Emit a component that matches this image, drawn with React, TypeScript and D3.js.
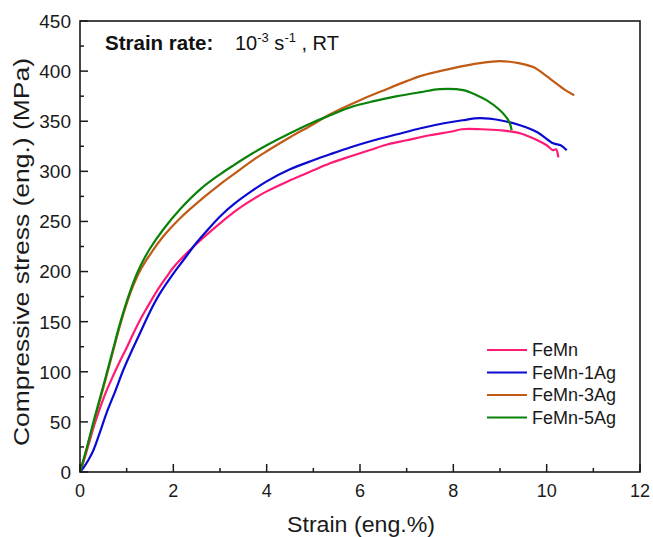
import React from "react";
import * as d3 from "d3";

const seriesNames = ["FeMn", "FeMn-1Ag", "FeMn-3Ag", "FeMn-5Ag"];
const seriesColors = ["#FF1A75", "#0A0AD2", "#C05A14", "#0A820A"];

const feMnStrain = [0, 0.1, 0.2, 0.3, 0.43, 0.55, 0.71, 0.85, 1.0, 1.15, 1.29, 1.45, 1.64, 1.86, 2.0, 2.3, 2.6, 3.0, 3.29, 3.6, 4.0, 4.5, 5.0, 5.36, 5.8, 6.2, 6.6, 7.0, 7.5, 8.0, 8.18, 8.6, 9.0, 9.43, 9.8, 10.0, 10.14, 10.2, 10.25];
const feMnStress = [0, 14, 30, 46, 64, 79, 96, 110, 124, 139, 152, 165, 180, 195, 204, 219, 232, 248, 259, 269, 280, 291, 301, 308, 315, 321, 327, 331, 336, 340, 342, 342, 341, 338, 331, 326, 321, 322, 314];

const ag1Strain = [0, 0.07, 0.18, 0.29, 0.43, 0.57, 0.75, 0.93, 1.1, 1.29, 1.5, 1.71, 2.0, 2.21, 2.5, 2.8, 3.0, 3.29, 3.7, 4.0, 4.5, 5.0, 5.36, 5.8, 6.3, 6.8, 7.3, 7.8, 8.2, 8.57, 9.0, 9.43, 9.8, 10.14, 10.3, 10.43];
const ag1Stress = [0, 4, 12, 22, 40, 59, 80, 102, 120, 139, 160, 178, 198, 211, 229, 245, 255, 267, 281, 290, 302, 311, 317, 324, 331, 337, 343, 348, 351, 353, 351, 346, 339, 328, 326, 321];

const ag3Strain = [0, 0.15, 0.3, 0.5, 0.7, 0.85, 1.0, 1.15, 1.3, 1.5, 1.8, 2.14, 2.6, 3.0, 3.29, 3.7, 4.0, 4.5, 5.0, 5.36, 6.0, 6.57, 7.0, 7.29, 8.0, 8.57, 9.0, 9.4, 9.71, 10.0, 10.14, 10.4, 10.59];
const ag3Stress = [0, 24, 50, 84, 119, 145, 168, 187, 202, 217, 236, 253, 272, 287, 297, 311, 320, 334, 347, 357, 371, 382, 390, 395, 403, 408, 410, 408, 404, 395, 390, 381, 376];

const ag5Strain = [0, 0.15, 0.3, 0.5, 0.7, 0.85, 1.0, 1.15, 1.3, 1.5, 1.8, 2.14, 2.6, 3.0, 3.29, 3.7, 4.0, 4.5, 5.0, 5.36, 5.8, 6.3, 6.8, 7.3, 7.71, 8.21, 8.5, 8.71, 9.0, 9.15, 9.21, 9.25];
const ag5Stress = [0, 25, 52, 86, 121, 147, 170, 190, 206, 223, 243, 262, 283, 297, 306, 318, 326, 338, 349, 356, 364, 370, 375, 379, 382, 381, 376, 371, 361, 353, 348, 341];

const allStrain = [feMnStrain, ag1Strain, ag3Strain, ag5Strain];
const allStress = [feMnStress, ag1Stress, ag3Stress, ag5Stress];

const xTicks = [0, 2, 4, 6, 8, 10, 12];
const yTicks = [0, 50, 100, 150, 200, 250, 300, 350, 400, 450];

const W = 653, H = 537;
const L = 80, R = 640, T = 21, B = 472;

export default function App() {
  const x = d3.scaleLinear().domain([0, 12]).range([L, R]);
  const y = d3.scaleLinear().domain([0, 450]).range([B, T]);
  const line = d3.line<[number, number]>().x(d => x(d[0])).y(d => y(d[1])).curve(d3.curveCatmullRom.alpha(0.5));
  const xMinor = d3.range(1, 12, 2);
  const yMinor = d3.range(25, 450, 50);
  const font = "Arial, 'Liberation Sans', sans-serif";
  return (
    <svg width={W} height={H} style={{ position: "absolute", left: 0, top: 0, background: "#fff" }} fontFamily={font}>
      <rect width={W} height={H} fill="#fff" />
      {allStrain.map((xs, i) => (
        <path key={i} d={line(xs.map((v, j) => [v, allStress[i][j]] as [number, number])) || ""} fill="none" stroke={seriesColors[i]} strokeWidth={2.2} strokeLinejoin="round" />
      ))}
      <rect x={L} y={T} width={R - L} height={B - T} fill="none" stroke="#1a1a1a" strokeWidth={1.6} />
      {xTicks.map(t => (
        <g key={"x" + t}>
          <line x1={x(t)} x2={x(t)} y1={B} y2={B - 8} stroke="#1a1a1a" strokeWidth={1.5} />
          <text x={x(t)} y={497} textAnchor="middle" fontSize={18} fill="#1a1a1a">{t}</text>
        </g>
      ))}
      {xMinor.map(t => <line key={"xm" + t} x1={x(t)} x2={x(t)} y1={B} y2={B - 4} stroke="#1a1a1a" strokeWidth={1.5} />)}
      {yTicks.map(t => (
        <g key={"y" + t}>
          <line x1={L} x2={L + 8} y1={y(t)} y2={y(t)} stroke="#1a1a1a" strokeWidth={1.5} />
          <text x={71} y={y(t)} dy="0.36em" textAnchor="end" fontSize={19} fill="#1a1a1a">{t}</text>
        </g>
      ))}
      {yMinor.map(t => <line key={"ym" + t} x1={L} x2={L + 4} y1={y(t)} y2={y(t)} stroke="#1a1a1a" strokeWidth={1.5} />)}
      <text x={361} y={532} textAnchor="middle" fontSize={22} textLength={148} lengthAdjust="spacingAndGlyphs" fill="#1a1a1a">Strain (eng.%)</text>
      <text transform="translate(29,252) rotate(-90)" textAnchor="middle" fontSize={22} textLength={388} lengthAdjust="spacingAndGlyphs" fill="#1a1a1a">Compressive stress (eng.) (MPa)</text>
      <text x={105} y={50} fontSize={20} fill="#111">
        <tspan fontWeight="bold" fontSize={20.5}>Strain rate:</tspan>
        <tspan x={235}>10</tspan>
        <tspan fontSize={13} dy={-8}>-3</tspan>
        <tspan dy={8}> s</tspan>
        <tspan fontSize={13} dy={-8}>-1</tspan>
        <tspan dy={8}> , RT</tspan>
      </text>
      {seriesNames.map((n, i) => (
        <g key={n}>
          <line x1={487} x2={527} y1={350 + i * 22.5} y2={350 + i * 22.5} stroke={seriesColors[i]} strokeWidth={2.2} />
          <text x={532} y={350 + i * 22.5} dy="0.36em" fontSize={18} fill="#1a1a1a">{n}</text>
        </g>
      ))}
    </svg>
  );
}
